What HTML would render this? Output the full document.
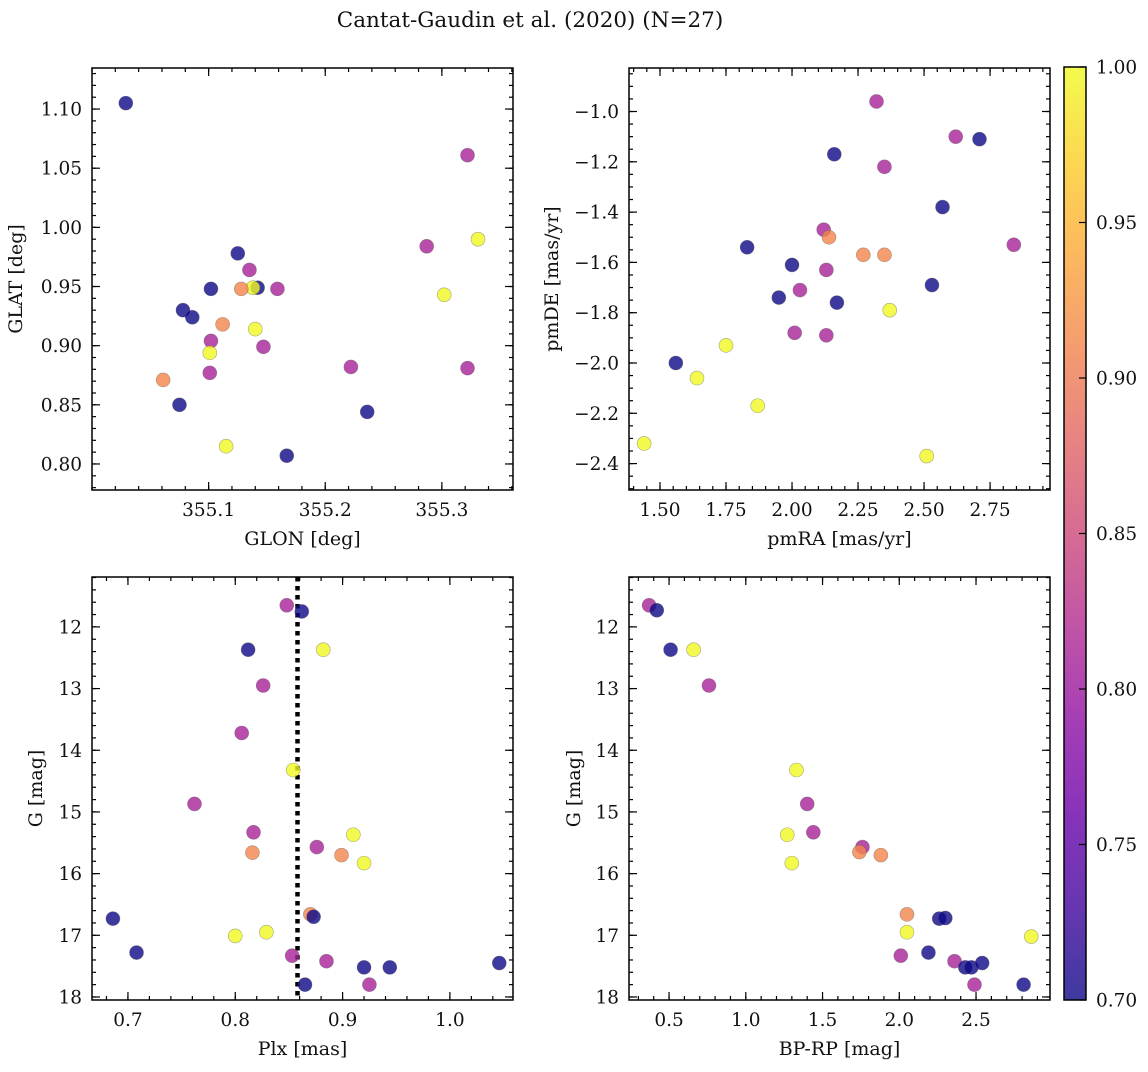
<!DOCTYPE html>
<html><head><meta charset="utf-8"><style>
body{margin:0;background:#fff}
svg text{font-family:"DejaVu Serif","Liberation Serif",serif;fill:#111}
</style></head><body>
<svg id="fig" width="1148" height="1067" viewBox="0 0 1148 1067" xmlns="http://www.w3.org/2000/svg">
<defs>
<linearGradient id="cbg" x1="0" y1="1" x2="0" y2="0"></linearGradient>
</defs>
<text x="530" y="27" font-size="21.5" text-anchor="middle">Cantat-Gaudin et al. (2020) (N=27)</text>
</svg>
<script>
// Panel 1: GLON / GLAT
const glon=[355.029,355.322,355.331,355.287,355.125,355.135,355.142,355.138,355.128,355.159,355.102,355.302,355.078,355.086,355.112,355.140,355.102,355.147,355.101,355.222,355.322,355.101,355.061,355.075,355.236,355.115,355.167];
const glat=[1.105,1.061,0.990,0.984,0.978,0.964,0.949,0.949,0.948,0.948,0.948,0.943,0.930,0.924,0.918,0.914,0.904,0.899,0.894,0.882,0.881,0.877,0.871,0.850,0.844,0.815,0.807];
const prob1=[0.7,0.81,1,0.81,0.7,0.81,0.7,1,0.91,0.81,0.7,1,0.7,0.7,0.91,1,0.81,0.81,1,0.81,0.81,0.81,0.91,0.7,0.7,1,0.7];
// Panel 2: pmRA / pmDE
const pmra=[2.32,2.62,2.71,2.16,2.35,2.57,2.12,2.14,2.84,1.83,2.27,2.35,2.00,2.13,2.53,2.03,1.95,2.17,2.37,2.01,2.13,1.75,1.56,1.64,1.87,1.44,2.51];
const pmde=[-0.96,-1.10,-1.11,-1.17,-1.22,-1.38,-1.47,-1.50,-1.53,-1.54,-1.57,-1.57,-1.61,-1.63,-1.69,-1.71,-1.74,-1.76,-1.79,-1.88,-1.89,-1.93,-2.00,-2.06,-2.17,-2.32,-2.37];
const prob2=[0.81,0.81,0.7,0.7,0.81,0.7,0.81,0.91,0.81,0.7,0.91,0.91,0.7,0.81,0.7,0.81,0.7,0.7,1,0.81,0.81,1,0.7,1,1,1,1];
// Panel 3: Plx / G
const plx=[0.848,0.862,0.812,0.882,0.826,0.806,0.854,0.762,0.910,0.817,0.876,0.816,0.899,0.920,0.870,0.873,0.686,0.829,0.800,0.708,0.853,0.885,0.920,0.944,1.046,0.865,0.925];
const gmag3=[11.65,11.75,12.37,12.37,12.95,13.72,14.32,14.87,15.37,15.33,15.57,15.66,15.70,15.83,16.66,16.70,16.73,16.95,17.01,17.28,17.33,17.42,17.52,17.52,17.45,17.80,17.80];
const prob3=[0.81,0.7,0.7,1,0.81,0.81,1,0.81,1,0.81,0.81,0.91,0.91,1,0.91,0.7,0.7,1,1,0.7,0.81,0.81,0.7,0.7,0.7,0.7,0.81];
const plxRef=[0.858];
// Panel 4: BP-RP / G
const bprp=[0.37,0.42,0.51,0.66,0.76,1.33,1.40,1.27,1.44,1.76,1.74,1.30,1.88,2.05,2.05,2.26,2.30,2.19,2.01,2.36,2.43,2.47,2.54,2.49,2.81,2.86];
const gmag4=[11.65,11.73,12.37,12.37,12.95,14.32,14.87,15.37,15.33,15.57,15.65,15.83,15.70,16.66,16.95,16.73,16.72,17.28,17.33,17.42,17.52,17.52,17.45,17.80,17.80,17.02];
const prob4=[0.81,0.7,0.7,1,0.81,1,0.81,1,0.81,0.81,0.91,1,0.91,0.91,1,0.7,0.7,0.7,0.81,0.81,0.7,0.7,0.7,0.81,0.7,1];
const cbTicks=[0.70,0.75,0.80,0.85,0.90,0.95,1.00];

const NS="http://www.w3.org/2000/svg";
const svg=document.getElementById('fig');
function mk(tag,attrs,parent){const e=document.createElementNS(NS,tag);for(const k in attrs)e.setAttribute(k,attrs[k]);(parent||svg).appendChild(e);return e;}
const plasma=["#0d0887","#41049d","#6a00a8","#8f0da4","#b12a90","#cc4778","#e16462","#f2844b","#fca636","#fcce25","#f0f921"];
function hex(h){return [1,3,5].map(i=>parseInt(h.substr(i,2),16));}
function cmap(v){let t=(v-0.7)/0.3;t=Math.max(0,Math.min(1,t));const p=t*10;const i=Math.min(9,Math.floor(p));const f=p-i;const a=hex(plasma[i]),b=hex(plasma[i+1]);return 'rgb('+a.map((c,k)=>Math.round(c+(b[k]-c)*f)).join(',')+')';}
const grad=document.getElementById('cbg');
plasma.forEach((c,i)=>mk('stop',{offset:(i*10)+'%','stop-color':c,'stop-opacity':0.8},grad));

const TF=18.5, LF=19;
function fmt(v,d){return v.toFixed(d).replace('-','\u2212');}
function panel(o){
  const g=mk('g',{});
  
  
  const X=v=>o.l+(v-o.x0)/(o.x1-o.x0)*(o.r-o.l);
  const Y=v=>o.b-(v-o.y0)/(o.y1-o.y0)*(o.b-o.t);
  const eps=1e-9;
  function ticks(a0,a1,step){const r=[];for(let v=Math.ceil(a0/step-eps)*step;v<=a1+eps;v+=step)r.push(+v.toFixed(6));return r;}
  const tk=mk('g',{stroke:'#000','stroke-width':1.2},g);
  ticks(Math.min(o.x0,o.x1),Math.max(o.x0,o.x1),o.xmin).forEach(v=>{const x=X(v);mk('line',{x1:x,x2:x,y1:o.b,y2:o.b-4},tk);mk('line',{x1:x,x2:x,y1:o.t,y2:o.t+4},tk);});
  ticks(Math.min(o.y0,o.y1),Math.max(o.y0,o.y1),o.ymin).forEach(v=>{const y=Y(v);mk('line',{x1:o.l,x2:o.l+4,y1:y,y2:y},tk);mk('line',{x1:o.r,x2:o.r-4,y1:y,y2:y},tk);});
  o.xt.forEach(v=>{const x=X(v);mk('line',{x1:x,x2:x,y1:o.b,y2:o.b-8},tk);mk('line',{x1:x,x2:x,y1:o.t,y2:o.t+8},tk);
    const t=mk('text',{x:x,y:o.b+26,'font-size':TF,'text-anchor':'middle'},g);t.textContent=fmt(v,o.xd);
    
    });
  o.yt.forEach(v=>{const y=Y(v);mk('line',{x1:o.l,x2:o.l+8,y1:y,y2:y},tk);mk('line',{x1:o.r,x2:o.r-8,y1:y,y2:y},tk);
    const t=mk('text',{x:o.l-10,y:y+6.5,'font-size':TF,'text-anchor':'end'},g);t.textContent=fmt(v,o.yd);
    
    });
  if(o.vline){o.vline.forEach(v=>{const ln=mk('line',{x1:X(v),x2:X(v),y1:o.t,y2:o.b,stroke:'#000','stroke-width':4.5,'stroke-dasharray':'4.5,4.5'},g);
    
    });}
  o.xs.forEach((v,i)=>{const c=mk('circle',{cx:X(v),cy:Y(o.ys[i]),r:7,fill:cmap(o.c[i]),'fill-opacity':0.8,stroke:'#555','stroke-opacity':0.5,'stroke-width':0.6},g);
    
    });
  const fr=mk('rect',{x:o.l,y:o.t,width:o.r-o.l,height:o.b-o.t,fill:'none',stroke:'#000','stroke-width':1.5},g);
  
  
  const xl=mk('text',{x:(o.l+o.r)/2,y:o.b+55,'font-size':LF,'text-anchor':'middle'},g);xl.textContent=o.xl;
  
  
  const yx=o.ylx,yy=(o.t+o.b)/2;
  const yl=mk('text',{x:yx,y:yy,'font-size':LF,'text-anchor':'middle',transform:'rotate(-90 '+yx+' '+yy+')'},g);yl.textContent=o.yl;
  
  
}
panel({name:'glon-glat-panel',l:92,r:513,t:68,b:490,x0:355.0,x1:355.361,y0:0.778,y1:1.1347,xs:glon,ys:glat,c:prob1,
  xt:[355.1,355.2,355.3],xd:1,xmin:0.02,yt:[0.80,0.85,0.90,0.95,1.00,1.05,1.10],yd:2,ymin:0.01,xl:'GLON [deg]',yl:'GLAT [deg]',ylx:22});
panel({name:'pm-panel',l:629,r:1050,t:68,b:490,x0:1.3826,x1:2.977,y0:-2.505,y1:-0.827,xs:pmra,ys:pmde,c:prob2,
  xt:[1.50,1.75,2.00,2.25,2.50,2.75],xd:2,xmin:0.05,yt:[-2.4,-2.2,-2.0,-1.8,-1.6,-1.4,-1.2,-1.0],yd:1,ymin:0.05,xl:'pmRA [mas/yr]',yl:'pmDE [mas/yr]',ylx:558});
panel({name:'plx-g-panel',l:92,r:513,t:577,b:1000,x0:0.6665,x1:1.0588,y0:18.049,y1:11.191,xs:plx,ys:gmag3,c:prob3,vline:plxRef,
  xt:[0.7,0.8,0.9,1.0],xd:1,xmin:0.02,yt:[12,13,14,15,16,17,18],yd:0,ymin:0.2,xl:'Plx [mas]',yl:'G [mag]',ylx:42});
panel({name:'cmd-panel',l:629,r:1050,t:577,b:1000,x0:0.239,x1:2.982,y0:18.049,y1:11.191,xs:bprp,ys:gmag4,c:prob4,
  xt:[0.5,1.0,1.5,2.0,2.5],xd:1,xmin:0.1,yt:[12,13,14,15,16,17,18],yd:0,ymin:0.2,xl:'BP-RP [mag]',yl:'G [mag]',ylx:580});
// colorbar
const cb=mk('g',{});


const cbT=67,cbB=1000,cbL=1064,cbR=1086;
mk('rect',{x:cbL,y:cbT,width:cbR-cbL,height:cbB-cbT,fill:'url(#cbg)',stroke:'#000','stroke-width':1.5},cb);
cbTicks.forEach(v=>{const y=cbB-(v-0.7)/0.3*(cbB-cbT);
  mk('line',{x1:cbR,x2:cbR-7,y1:y,y2:y,stroke:'#000','stroke-width':1.2},cb);
  const t=mk('text',{x:cbR+10,y:y+6.5,'font-size':TF},cb);t.textContent=v.toFixed(2);
  
  });
</script>
</body></html>
